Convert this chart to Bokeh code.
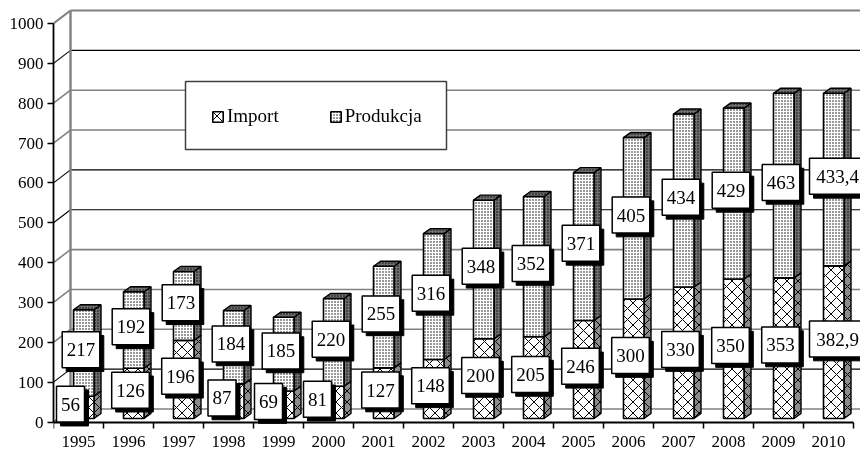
from bokeh.plotting import figure
from bokeh.models import FixedTicker, LinearAxis, Legend, LegendItem, Range1d
from bokeh.core.properties import value
from bokeh.embed import file_html
from bokeh.resources import INLINE

years = ["1995","1996","1997","1998","1999","2000","2001","2002","2003","2004","2005","2006","2007","2008","2009","2010"]
import_values = [56,126,196,87,69,81,127,148,200,205,246,300,330,350,353,382.9]
production_values = [217,192,173,184,185,220,255,316,348,352,371,405,434,429,463,433.4]
import_labels = ["56","126","196","87","69","81","127","148","200","205","246","300","330","350","353","382,9"]
production_labels = ["217","192","173","184","185","220","255","316","348","352","371","405","434","429","463","433,4"]
y_ticks = [0,100,200,300,400,500,600,700,800,900,1000]

# ---- scales: one category = 50 px, 100 units = 39.85 px
PXX = 1/50
PXY = 1/0.3985
FONT = "Liberation Serif"
W, H = 860, 451
n = len(years)
wall_dx, wall_dy = 17*PXX, 13*PXY
bar_l, bar_w = 20*PXX, 20.5*PXX
bar_base = 3.5*PXY
dep_x, dep_y = 7*PXX, 5*PXY
line_colors = ["#808080","#000000","#808080","#808080","#808080","#000000","#000000","#808080","#808080","#000000","#808080"]

top_px, bottom_px, left_px = 3, H, 53
zero_px = 421.5
p = figure(width=W, height=H, output_backend="svg", toolbar_location=None,
           x_range=Range1d(0, (W-left_px)*PXX),
           y_range=Range1d(-(bottom_px-zero_px)*PXY, (zero_px-top_px)*PXY),
           min_border_left=left_px, min_border_right=0,
           min_border_top=top_px, min_border_bottom=0,
           background_fill_color="white", border_fill_color="white", outline_line_color=None)
p.styles = {"position": "fixed", "left": "0", "top": "0"}
p.grid.visible = False
p.xaxis.visible = False
p.yaxis.visible = False

# back wall
end_x = (W-left_px)*PXX
for t, c in zip(y_ticks, line_colors):
    w = 2.2 if t == 1000 else (1.1 if c == "#000000" else 1.6)
    p.segment([wall_dx],[t+wall_dy],[end_x],[t+wall_dy],line_color=c,line_width=w)
    p.segment([0],[t],[wall_dx],[t+wall_dy],line_color=c,line_width=w)
p.segment([wall_dx],[wall_dy],[wall_dx],[1000+wall_dy],line_color="#808080",line_width=2.4)

def bar(x0, b, t, hatch, scale, weight, side_fill):
    x1 = x0+bar_w
    p.patch([x1,x1+dep_x,x1+dep_x,x1],[b,b+dep_y,t+dep_y,t],fill_color=side_fill,line_color="black",line_width=1.4,
            hatch_pattern=hatch,hatch_color="black",hatch_scale=scale,hatch_weight=weight)
    return p.quad(left=[x0],right=[x1],bottom=[b],top=[t],fill_color="white",line_color="black",line_width=1.6,
                  hatch_pattern=hatch,hatch_color="black",hatch_scale=scale,hatch_weight=weight)

r_imp = r_prod = None
for i in range(n):
    x0 = i+bar_l
    b0 = bar_base
    t0 = b0+import_values[i]
    t1 = t0+production_values[i]
    r_imp = bar(x0,b0,t0,"diagonal_cross",11,1,"#8c8c8c")
    r_prod = bar(x0,t0,t1,"dot",3,1.2,"#707070")
    x1 = x0+bar_w
    p.patch([x0,x0+dep_x,x1+dep_x,x1],[t1,t1+dep_y,t1+dep_y,t1],fill_color="#707070",line_color="black",line_width=1.4,
            hatch_pattern="dot",hatch_color="black",hatch_scale=3,hatch_weight=1)

# data labels
NUDGE_IMP = {0:17,3:18.5,4:15,5:14,15:34}
NUDGE_PROD = {15:34}
def box_w(s):
    return {2:28,3:37.6,5:56}[len(s)]*PXX
lx=[];ly=[];lt=[];lw=[]
for i in range(n):
    imp_mid = import_values[i]/2
    prod_mid = import_values[i]+production_values[i]/2
    lx.append(i+NUDGE_IMP.get(i,27)*PXX); ly.append(imp_mid+bar_base+8); lt.append(import_labels[i]); lw.append(box_w(import_labels[i]))
    lx.append(i+NUDGE_PROD.get(i,27.5)*PXX); ly.append(prod_mid+bar_base+8); lt.append(production_labels[i]); lw.append(box_w(production_labels[i]))
bh = 36*PXY
sx, sy = 4*PXX, 3.8*PXY
p.quad(left=[a-w/2+sx for a,w in zip(lx,lw)],right=[a+w/2+sx for a,w in zip(lx,lw)],
       bottom=[b-bh/2-sy for b in ly],top=[b+bh/2-sy for b in ly],fill_color="black",line_color="black")
p.quad(left=[a-w/2 for a,w in zip(lx,lw)],right=[a+w/2 for a,w in zip(lx,lw)],
       bottom=[b-bh/2 for b in ly],top=[b+bh/2 for b in ly],fill_color="white",line_color="black",line_width=1.5)
p.text(lx,ly,text=lt,text_align="center",text_baseline="middle",text_font=value(FONT),text_font_size="19px",text_color="black")

# axes
ya = LinearAxis(ticker=FixedTicker(ticks=y_ticks),bounds=(0,1000),axis_line_color="black",axis_line_width=1.8,
                major_tick_line_color="black",major_tick_line_width=1.5,major_tick_out=6,major_tick_in=0,minor_tick_out=0,minor_tick_in=0,
                major_label_text_font=FONT,major_label_text_font_size="17px",major_label_text_color="black",major_label_standoff=4)
p.add_layout(ya,"left")
xa = LinearAxis(ticker=FixedTicker(ticks=[i+0.5 for i in range(n)],minor_ticks=list(range(n+1))),
                fixed_location=0,bounds=(0,n),axis_line_color="black",axis_line_width=1.8,
                major_tick_line_color=None,major_tick_out=0,major_tick_in=0,
                minor_tick_line_color="black",minor_tick_line_width=1.5,minor_tick_out=6,minor_tick_in=0,
                major_label_overrides={i+0.5:y for i,y in enumerate(years)},
                major_label_text_font=FONT,major_label_text_font_size="17px",major_label_text_color="black",major_label_standoff=8)
p.add_layout(xa,"below")

# legend box and legend
p.quad(left=[(185-left_px)*PXX],right=[(446-left_px)*PXX],bottom=[(zero_px-149)*PXY],top=[(zero_px-81)*PXY],
       fill_color="white",line_color="#404040",line_width=1.5)
leg = Legend(items=[LegendItem(label="Import",renderers=[r_imp]),LegendItem(label="Produkcja",renderers=[r_prod])],
             orientation="horizontal",location=(211-left_px,bottom_px-127),
             glyph_width=13,glyph_height=13,label_standoff=3,spacing=50,padding=0,margin=0,
             label_text_font=FONT,label_text_font_size="19px",label_text_color="black",
             border_line_color=None,background_fill_color=None,background_fill_alpha=0)
p.add_layout(leg,"center")

open("out.html","w").write(file_html(p, INLINE))
